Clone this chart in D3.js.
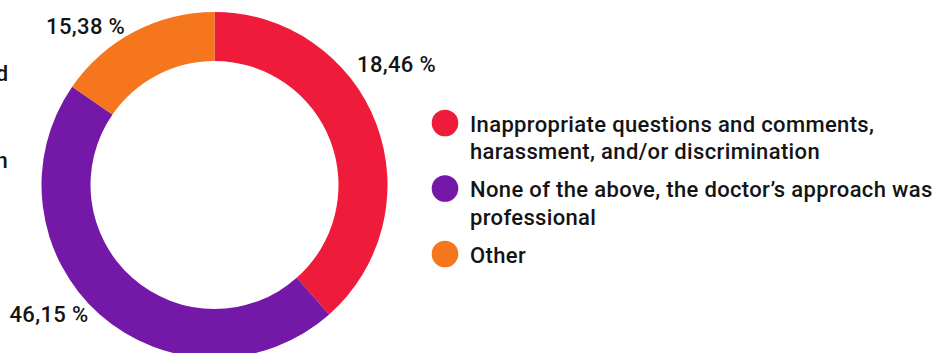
<!DOCTYPE html>
<html>
<head>
<meta charset="utf-8">
<script src="https://cdn.jsdelivr.net/npm/d3@7"></script>
<style>
  html, body { margin: 0; padding: 0; background: #fff; }
  svg { display: block; }
  text { font-family: Roboto, "Noto Sans", sans-serif; fill: #141414; font-weight: 500; letter-spacing: 0.35px; }
</style>
</head>
<body>
<svg id="chart" width="937" height="353"></svg>
<script>
// ---- data ----
const categories = [
  "Inappropriate questions and comments, harassment, and/or discrimination",
  "None of the above, the doctor\u2019s approach was professional",
  "Other"
];
// slice sizes as drawn in the picture (percent of the ring)
const sliceValues = [38.46, 46.15, 15.38];
// value labels as printed in the picture
const valueLabels = ["18,46 %", "46,15 %", "15,38 %"];
const legendLines = [
  ["Inappropriate questions and comments,", "harassment, and/or discrimination"],
  ["None of the above, the doctor\u2019s approach was", "professional"],
  ["Other"]
];
// cropped text fragments at the left edge (from a neighbouring panel)
const edgeFragments = ["and", "discrimination"];

// ---- layout / style ----
const colors = ["#EE1C3A", "#7318A7", "#F6761D"];
const W = 937, H = 353;
const cx = 214.5, cy = 185;
const rOuter = 173, rInner = 124;
const labelLayout = [ {frac: 0.407, r: 218.7}, {frac: 0.563, r: 210}, {frac: 0.295, r: 204.7} ];

const svg = d3.select("#chart");

const pie = d3.pie().sort(null).value(d => d);
const arcs = pie(sliceValues);
const arc = d3.arc().innerRadius(rInner).outerRadius(rOuter);

const g = svg.append("g").attr("transform", `translate(${cx},${cy})`);
g.selectAll("path.slice")
  .data(arcs)
  .join("path")
  .attr("class", "slice")
  .attr("d", arc)
  .attr("fill", (d, i) => colors[i]);

// value labels
g.selectAll("text.val")
  .data(arcs)
  .join("text")
  .attr("class", "val")
  .attr("x", (d, i) => {
    const a = d.startAngle + (d.endAngle - d.startAngle) * labelLayout[i].frac;
    return Math.sin(a) * labelLayout[i].r;
  })
  .attr("y", (d, i) => {
    const a = d.startAngle + (d.endAngle - d.startAngle) * labelLayout[i].frac;
    return -Math.cos(a) * labelLayout[i].r;
  })
  .attr("text-anchor", "middle")
  .attr("dy", "0.355em")
  .style("font-size", "22px")
  .text((d, i) => valueLabels[i]);

// legend
const legend = svg.append("g").attr("transform", "translate(445,0)");
const lineH = 27.5, itemGap = 10.5;
let yBase = 131.5;
legendLines.forEach((lines, i) => {
  const item = legend.append("g");
  item.append("circle")
    .attr("cx", 0)
    .attr("cy", yBase - 8.5)
    .attr("r", 13.3)
    .attr("fill", colors[i]);
  lines.forEach((ln, j) => {
    item.append("text")
      .attr("x", 25)
      .attr("y", yBase + j * lineH)
      .style("font-size", "22px")
      .text(ln);
  });
  yBase += lines.length * lineH + itemGap;
});

// cropped fragments at the left edge
svg.append("text").attr("x", 8.5).attr("y", 80.5).attr("text-anchor", "end")
  .style("font-size", "22px").text(edgeFragments[0]);
svg.append("text").attr("x", 8).attr("y", 168).attr("text-anchor", "end")
  .style("font-size", "22px").text(edgeFragments[1]);
</script>
</body>
</html>
